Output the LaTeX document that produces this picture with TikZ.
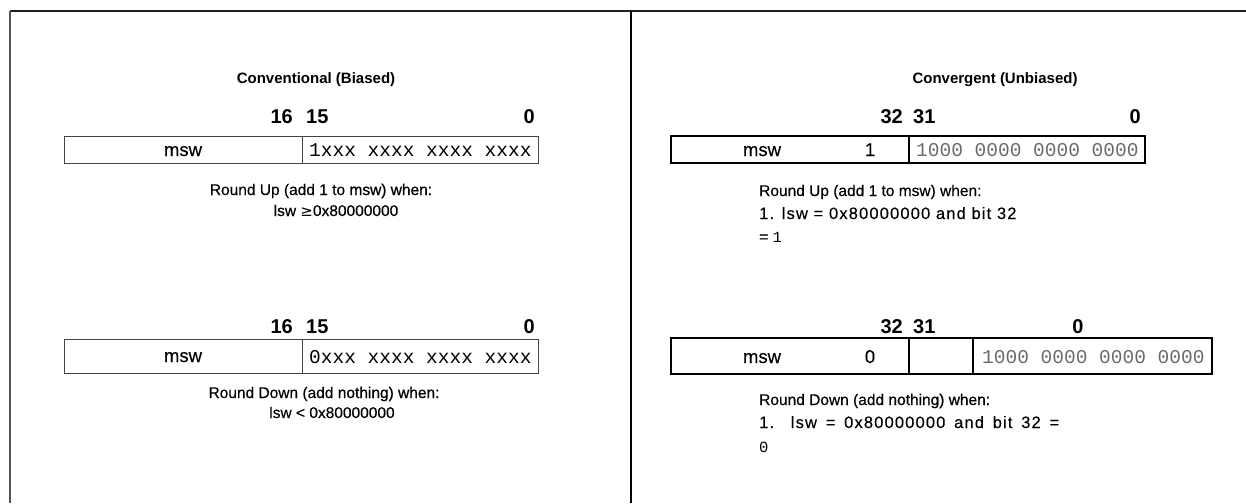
\documentclass[tikz,border=0pt]{standalone}
\usepackage{fontspec}
\setmainfont{Liberation Sans}
\newfontfamily\bodyfont[FakeBold=0.25]{Liberation Sans}
\newfontfamily\semibold[FakeBold=0.9]{Liberation Sans}
\newfontfamily\widefont[FakeBold=0.25,LetterSpace=7]{Liberation Sans}
\newfontfamily\monofont{Liberation Mono}
\newfontfamily\symfont{DejaVu Sans}
\definecolor{framegray}{HTML}{555555}
\definecolor{boxgray}{HTML}{444444}
\definecolor{digitgray}{HTML}{6A6A6A}
\tikzset{
  frameline/.style={line width=1.5pt, draw=black!88},
  thinbox/.style={draw=boxgray, line width=0.9pt},
  thickbox/.style={draw=black, line width=2pt},
  title/.style={font=\fontsize{15}{18}\selectfont\bfseries, anchor=base, inner sep=0pt},
  bitlbl/.style={font=\fontsize{20}{23}\selectfont\bfseries, anchor=base, inner sep=0pt},
  body/.style={font=\fontsize{15.5}{19}\selectfont\bodyfont, anchor=base, inner sep=0pt},
  bodyleft/.style={font=\fontsize{15.5}{19}\selectfont\bodyfont, anchor=base west, inner sep=0pt},
  wideleft/.style={font=\fontsize{16.5}{19}\selectfont\widefont, anchor=base west, inner sep=0pt},
  cell/.style={font=\fontsize{18.5}{22}\selectfont\bodyfont, anchor=base, inner sep=0pt},
  monotxt/.style={font=\fontsize{19.5}{22}\selectfont\monofont, anchor=base west, inner sep=0pt},
  graydigits/.style={font=\fontsize{19.5}{22}\selectfont\monofont, text=digitgray, anchor=base west, inner sep=0pt},
}
\begin{document}
\begin{tikzpicture}[x=1pt,y=-1pt]
\useasboundingbox (0,0) rectangle (1246,503);
% frame
\coordinate (tl) at (9.5,11);
\coordinate (tr) at (1246,11);
\coordinate (bl) at (9.5,503);
\coordinate (dt) at (631,11);
\coordinate (db) at (631,503);
\draw[frameline] (tl) -- (tr);
\draw[draw=framegray, line width=2pt] (tl) -- (bl);
\draw[frameline, draw=black] (dt) -- (db);

% ===== left panel =====
\node[title] (ltitle) at (316,83) {Conventional (Biased)};
% box 1
\node[bitlbl, anchor=base east] (l16a) at (293,123) {16};
\node[bitlbl, anchor=base west] (l15a) at (306,123) {15};
\node[bitlbl, anchor=base east] (l0a) at (535,123) {0};
\draw[thinbox] (64,136) rectangle (538,163);
\draw[thinbox] (302,136) -- (302,163);
\node[cell] (lmswa) at (183,156) {msw};
\node[monotxt] (lbitsa) at (309,156) {1xxx xxxx xxxx xxxx};
\node[body] (lupa) at (321,195) {Round Up (add 1 to {\semibold msw) when:}};
\node[body] (lupb) at (336,216) {lsw {\symfont\fontsize{15}{18}\selectfont ≥}0x80000000};
% box 2
\node[bitlbl, anchor=base east] (l16b) at (293,333) {16};
\node[bitlbl, anchor=base west] (l15b) at (306,333) {15};
\node[bitlbl, anchor=base east] (l0b) at (535,333) {0};
\draw[thinbox] (64,339) rectangle (538,373);
\draw[thinbox] (302,339) -- (302,373);
\node[cell] (lmswb) at (183,362) {msw};
\node[monotxt] (lbitsb) at (309,363) {0xxx xxxx xxxx xxxx};
\node[body] (ldna) at (324,398) {Round Down (add {\semibold nothing) when:}};
\node[body] (ldnb) at (332,418) {lsw < 0x80000000};

% ===== right panel =====
\node[title] (rtitle) at (995,83) {Convergent (Unbiased)};
% box 1
\node[bitlbl, anchor=base east] (r32a) at (903,123) {32};
\node[bitlbl, anchor=base west] (r31a) at (913,123) {31};
\node[bitlbl, anchor=base east] (r0a) at (1141,123) {0};
\draw[thickbox] (671,136) rectangle (1145,163);
\draw[thickbox] (909,136) -- (909,163);
\node[cell] (rmswa) at (762,156) {msw};
\node[cell] (rbita) at (870,156) {1};
\node[graydigits] (rdiga) at (916,156) {1000 0000 0000 0000};
\node[bodyleft] (rupa) at (759,196) {Round Up (add 1 to msw) when:};
\node[wideleft] (rupb) at (759,219) {1. lsw = 0x80000000 and bit 32};
\node[bodyleft] (rupc) at (759,242) {{\semibold =} {\monofont 1}};
% box 2
\node[bitlbl, anchor=base east] (r32b) at (903,333) {32};
\node[bitlbl, anchor=base west] (r31b) at (913,333) {31};
\node[bitlbl] (r0b) at (1078,333) {0};
\draw[thickbox] (671,338) rectangle (1212,374);
\draw[thickbox] (909,338) -- (909,374);
\draw[thickbox] (973,338) -- (973,374);
\node[cell] (rmswb) at (762,363) {msw};
\node[cell] (rbitb) at (870,363) {0};
\node[graydigits] (rdigb) at (982,363) {1000 0000 0000 0000};
\node[bodyleft] (rdna) at (759,405) {Round Down (add {\semibold nothing) when:}};
\node[wideleft] (rdnb) at (759,428) {\makebox[300pt][s]{1. lsw = 0x80000000 and bit 32 =}};
\node[bodyleft] (rdnc) at (759,452) {{\monofont 0}};
\end{tikzpicture}
\end{document}
